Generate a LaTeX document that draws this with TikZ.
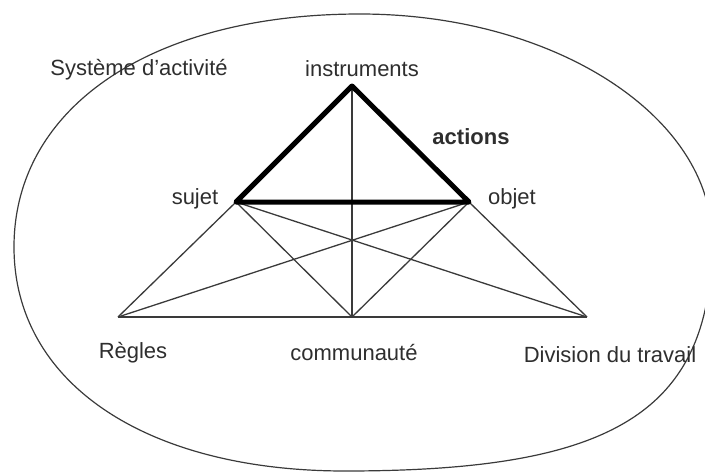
\documentclass[tikz,border=0pt]{standalone}
\usepackage{fontspec}
\setmainfont{Liberation Sans}
\definecolor{txt}{HTML}{2E2E2E}
\definecolor{trait}{HTML}{3A3A3A}
\tikzset{
  every node/.style={font=\fontsize{22}{26}\selectfont, text=txt},
  lien/.style={draw=trait, line width=1.3pt},
  action/.style={draw=black, line width=5pt, line join=round},
  contour/.style={draw=trait, line width=1.2pt},
  etiq/.style={inner sep=0pt, anchor=center},
}

\begin{document}
\begin{tikzpicture}[x=1pt, y=-1pt]
  \useasboundingbox (0,0) rectangle (705,472);

  % sommets du systeme
  \coordinate (ins) at (352,86);
  \coordinate (suj) at (236,202);
  \coordinate (obj) at (469,202);
  \coordinate (reg) at (118,317);
  \coordinate (com) at (352,317);
  \coordinate (div) at (587,317);

  % contour du systeme d'activite
  \coordinate (ogau) at (14,247);
  \coordinate (ohau) at (360,14);
  \coordinate (odro) at (712,240);
  \coordinate (obas) at (345,471);
  \draw[contour] (ogau) .. controls (14,107) and (152,14) .. (ohau)
    .. controls (554,14) and (712,116) .. (odro)
    .. controls (712,415) and (609,471) .. (obas)
    .. controls (146,471) and (14,383) .. (ogau) -- cycle;

  % liens fins
  \draw[lien] (reg) -- (div);
  \draw[lien] (ins) -- (com);
  \foreach \a in {suj,obj} {
    \foreach \b in {reg,com,div} { \draw[lien] (\a) -- (\b); }
  }

  % triangle des actions
  \draw[action] (suj) -- (ins) -- (obj) -- cycle;

  % etiquettes
  \node[etiq] (tsys) at (139,70) {Système d'activité};
  \node[etiq] (tins) at (362,69) {instruments};
  \node[etiq, font=\fontsize{22}{26}\selectfont\bfseries] (tact) at (471,137) {actions};
  \node[etiq] (tsuj) at (195,199) {sujet};
  \node[etiq] (tobj) at (512,199) {objet};
  \node[etiq] (treg) at (133,353) {Règles};
  \node[etiq] (tcom) at (354,353) {communauté};
  \node[etiq] (tdiv) at (610,355) {Division du travail};
\end{tikzpicture}
\end{document}
